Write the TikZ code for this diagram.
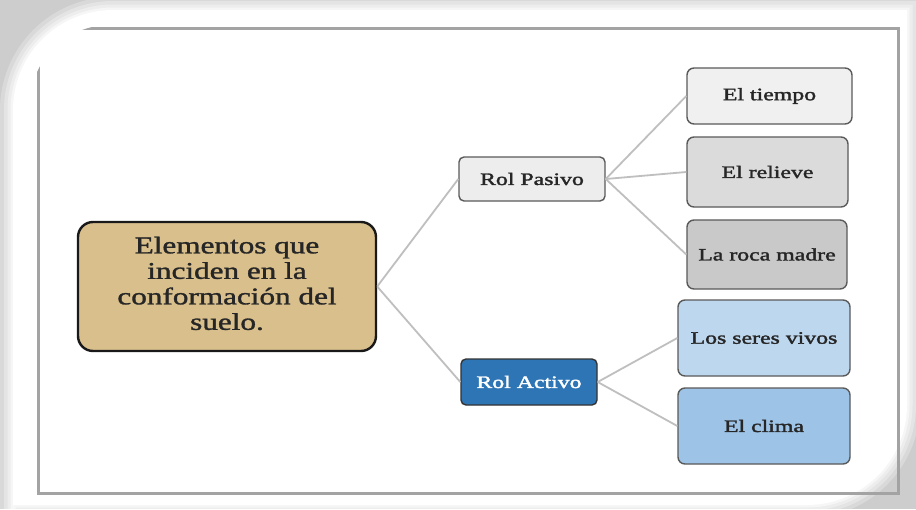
\documentclass[tikz,border=0pt]{standalone}
\usepackage{fontspec}
\usepackage{graphicx}
\setmainfont[FakeBold=1.2]{Liberation Serif}
\newfontfamily\boldish[FakeBold=1.6]{Liberation Serif}
\newcommand\hs[1]{\scalebox{1.36}[1]{#1}}
\newcommand\hm[1]{\scalebox{1.3}[1]{#1}}
\definecolor{shadowgray}{HTML}{CDCDCD}
\definecolor{framegray}{HTML}{A3A3A3}
\definecolor{linkgray}{HTML}{BFBFBF}
\definecolor{boxline}{HTML}{5A5A5A}
\definecolor{tan}{HTML}{D9BF8C}
\definecolor{gA}{HTML}{EDEDED}
\definecolor{gB}{HTML}{F0F0F0}
\definecolor{gC}{HTML}{DBDBDB}
\definecolor{gD}{HTML}{C9C9C9}
\definecolor{bA}{HTML}{2E75B6}
\definecolor{bB}{HTML}{BDD7EE}
\definecolor{bC}{HTML}{9DC3E6}
\tikzset{
  leafbox/.style={draw=boxline, line width=1.4pt, rounded corners=7pt, inner sep=0pt,
    font=\boldish\fontsize{17.5}{20}\selectfont, text=black!85, align=center},
  rolbox/.style={leafbox, rounded corners=5pt},
  link/.style={draw=linkgray, line width=1.8pt},
}
\begin{document}
\begin{tikzpicture}[x=1pt,y=-1pt]
\useasboundingbox (0,0) rectangle (916,509);
% background with shadow
\fill[shadowgray] (0,0) rectangle (916,509);
\def\outer{(13,520) -- (13,110) arc(180:270:100) -- (907,10) -- (907,405) arc(0:90:100) -- (13,505) -- cycle}
\foreach \w/\o in {26/0.25,18/0.3,11/0.35,5/0.5}{
  \draw[white, line width=\w pt, opacity=\o] \outer;
}
\fill[white] \outer;
% inner frame
\begin{scope}
\clip (30,520) -- (30,105) arc(180:270:80) -- (950,25) -- (950,520) -- cycle;
\draw[framegray, line width=3pt] (38,28) rectangle (898,493);
\end{scope}
% nodes
\node[draw=black!90, line width=2.4pt, rounded corners=15pt, fill=tan, minimum width=298pt, minimum height=129pt,
  inner sep=0pt, align=center, text=black!85, font=\fontsize{24}{25.5}\selectfont]
  (main) at (227,286.5) {\hm{\begin{tabular}{@{}c@{}}Elementos que\\inciden en la\\conformación del\\suelo.\end{tabular}}};
\node[rolbox, fill=gA, minimum width=146pt, minimum height=44pt] (pas) at (532,179) {\hs{Rol Pasivo}};
\node[rolbox, draw=black!80, fill=bA, text=white, minimum width=136pt, minimum height=46pt] (act) at (529,382) {\hs{Rol Activo}};
\node[leafbox, fill=gB, minimum width=165pt, minimum height=56pt] (tie) at (769.5,96) {\hs{El tiempo}};
\node[leafbox, fill=gC, minimum width=161pt, minimum height=70pt] (rel) at (767.5,172) {\hs{El relieve}};
\node[leafbox, fill=gD, minimum width=160pt, minimum height=69pt] (roc) at (767,254.5) {\hs{La roca madre}};
\node[leafbox, fill=bB, minimum width=172pt, minimum height=76pt] (ser) at (764,338) {\hs{Los seres vivos}};
\node[leafbox, fill=bC, minimum width=172pt, minimum height=76pt] (cli) at (764,426) {\hs{El clima}};
% connectors
\draw[link] (main.east) -- (pas.west);
\draw[link] (main.east) -- (act.west);
\draw[link] (pas.east) -- (tie.west);
\draw[link] (pas.east) -- (rel.west);
\draw[link] (pas.east) -- (roc.west);
\draw[link] (act.east) -- (ser.west);
\draw[link] (act.east) -- (cli.west);
\end{tikzpicture}
\end{document}
